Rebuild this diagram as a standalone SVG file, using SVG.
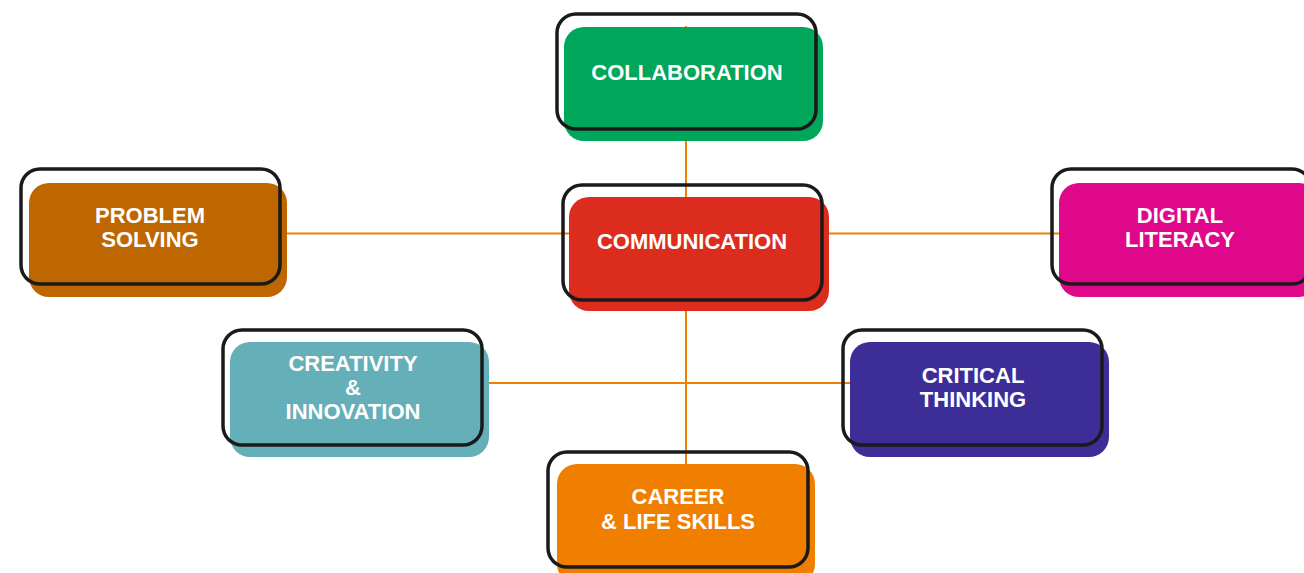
<svg xmlns="http://www.w3.org/2000/svg" width="1304" height="573" viewBox="0 0 1304 573">
<style>
.fill{stroke:none}
.outline{fill:none;stroke:#1a1a1a;stroke-width:3.5}
.lbl{font-family:"Liberation Sans",Arial,sans-serif;font-weight:bold;font-size:22px;fill:#ffffff;text-anchor:middle}
.conn{stroke:#F08000;stroke-width:2;fill:none}
</style>
<rect width="1304" height="573" fill="#ffffff"/>
<g id="connectors">
<line class="conn" x1="686" y1="26" x2="686" y2="466"/>
<line class="conn" x1="285" y1="233.5" x2="1060" y2="233.5"/>
<line class="conn" x1="487" y1="383" x2="852" y2="383"/>
</g>
<g id="collaboration">
<rect class="fill" x="564" y="27" width="259" height="114" rx="20" fill="#00A659"/>
<rect class="outline" x="557" y="14" width="259" height="115" rx="19"/>
<text class="lbl" x="687" y="80">COLLABORATION</text>
</g>
<g id="communication">
<rect class="fill" x="569" y="197" width="260" height="114" rx="20" fill="#DC2C1E"/>
<rect class="outline" x="563" y="185" width="259" height="115" rx="19"/>
<text class="lbl" x="692" y="249">COMMUNICATION</text>
</g>
<g id="problem-solving">
<rect class="fill" x="29" y="183" width="258" height="114" rx="20" fill="#BE6600"/>
<rect class="outline" x="21" y="169" width="259" height="115" rx="19"/>
<text class="lbl" x="150" y="223">PROBLEM</text>
<text class="lbl" x="150" y="247">SOLVING</text>
</g>
<g id="digital-literacy">
<rect class="fill" x="1059" y="183" width="260" height="114" rx="20" fill="#E0088A"/>
<rect class="outline" x="1052" y="169" width="259" height="115" rx="19"/>
<text class="lbl" x="1180" y="223">DIGITAL</text>
<text class="lbl" x="1180" y="247">LITERACY</text>
</g>
<g id="creativity-innovation">
<rect class="fill" x="230" y="342" width="259" height="115" rx="20" fill="#65B0B8"/>
<rect class="outline" x="223" y="330" width="259" height="115" rx="19"/>
<text class="lbl" x="353" y="371">CREATIVITY</text>
<text class="lbl" x="353" y="395">&amp;</text>
<text class="lbl" x="353" y="419">INNOVATION</text>
</g>
<g id="critical-thinking">
<rect class="fill" x="850" y="342" width="259" height="115" rx="20" fill="#3D2D97"/>
<rect class="outline" x="843" y="330" width="259" height="115" rx="19"/>
<text class="lbl" x="973" y="383">CRITICAL</text>
<text class="lbl" x="973" y="407">THINKING</text>
</g>
<g id="career-life-skills">
<rect class="fill" x="557" y="464" width="258" height="120" rx="20" fill="#F07F00"/>
<rect class="outline" x="548" y="452" width="260" height="115" rx="19"/>
<text class="lbl" x="678" y="504">CAREER</text>
<text class="lbl" x="678" y="529">&amp; LIFE SKILLS</text>
</g>
</svg>
